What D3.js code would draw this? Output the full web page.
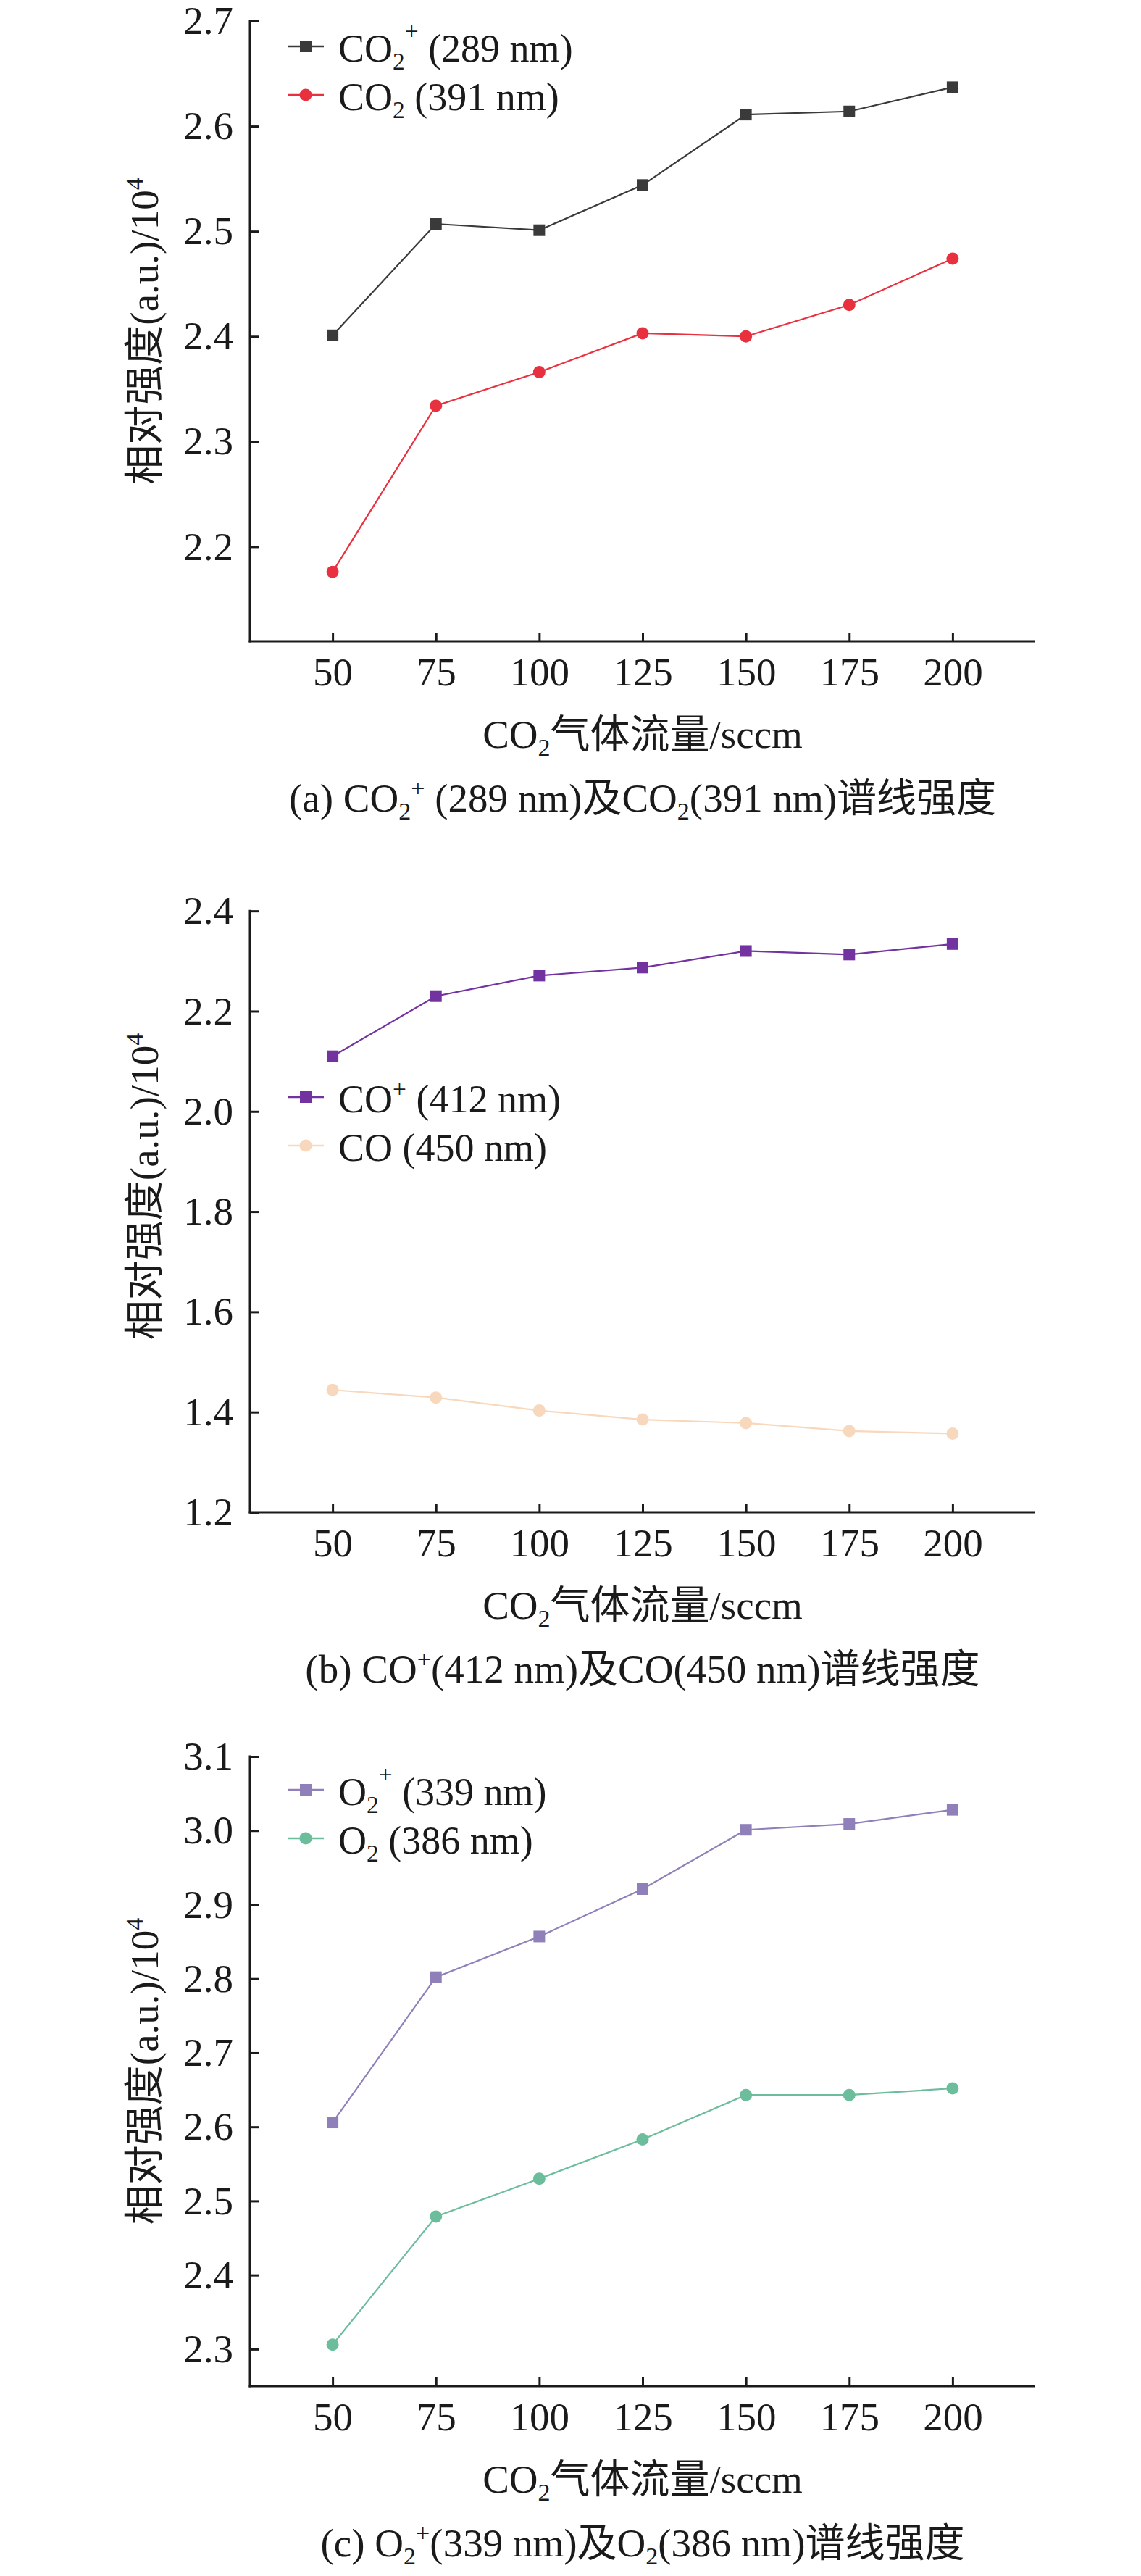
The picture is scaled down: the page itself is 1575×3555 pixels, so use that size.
<!DOCTYPE html>
<html><head><meta charset="utf-8">
<script src="https://cdn.jsdelivr.net/npm/d3@7/dist/d3.min.js"></script>
<style>
html,body{margin:0;padding:0;background:#fff;}
svg text{font-family:"Liberation Serif","Times New Roman","Noto Sans CJK SC",serif;fill:#1a1a1a;}
</style></head>
<body>
<svg id="chart" width="1575" height="3555"></svg>
<script>
// ---- data ----
const flow = [50, 75, 100, 125, 150, 175, 200];
const xTicks = [50, 75, 100, 125, 150, 175, 200];

const co2Ion289 = [2.401, 2.507, 2.501, 2.544, 2.611, 2.614, 2.637];
const co2Mol391 = [2.176, 2.334, 2.366, 2.403, 2.400, 2.430, 2.474];

const coIon412 = [2.110, 2.230, 2.271, 2.287, 2.320, 2.313, 2.334];
const coMol450 = [1.444, 1.429, 1.403, 1.385, 1.378, 1.362, 1.357];

const o2Ion339 = [2.606, 2.802, 2.857, 2.921, 3.001, 3.009, 3.028];
const o2Mol386 = [2.306, 2.479, 2.530, 2.583, 2.643, 2.643, 2.652];

const yTicksA = [2.2, 2.3, 2.4, 2.5, 2.6, 2.7];
const yTicksB = [1.2, 1.4, 1.6, 1.8, 2.0, 2.2, 2.4];
const yTicksC = [2.3, 2.4, 2.5, 2.6, 2.7, 2.8, 2.9, 3.0, 3.1];

const yTitle = ["相对强度(a.u.)/10", "4"];
const xTitle = [["CO",""],["2","sub"],["气体流量/sccm",""]];

const captionA = [["(a) CO",""],["2","sub"],["+","sup"],[" (289 nm)及CO",""],["2","sub"],["(391 nm)谱线强度",""]];
const captionB = [["(b) CO",""],["+","sup"],["(412 nm)及CO(450 nm)谱线强度",""]];
const captionC = [["(c) O",""],["2","sub"],["+","sup"],["(339 nm)及O",""],["2","sub"],["(386 nm)谱线强度",""]];

const legA = [[["CO",""],["2","sub"],["+","sup2"],[" (289 nm)",""]], [["CO",""],["2","sub"],[" (391 nm)",""]]];
const legB = [[["CO",""],["+","sup"],[" (412 nm)",""]], [["CO (450 nm)",""]]];
const legC = [[["O",""],["2","sub"],["+","sup2"],[" (339 nm)",""]], [["O",""],["2","sub"],[" (386 nm)",""]]];

// ---- layout ----
const FS = 55;
const svg = d3.select("#chart");
const x = d3.scaleLinear().domain([30, 220]).range([345, 1429]);

const panels = [
  {top:29, bottom:885, domain:[2.11,2.7], ticks:yTicksA, fmt:".1f", caption:captionA, legY:64,
   series:[{v:co2Ion289, color:"#3a3a3a", shape:"square", leg:legA[0]},
           {v:co2Mol391, color:"#e8303f", shape:"circle", leg:legA[1]}]},
  {top:1188, bottom:2087, domain:[1.2,2.5], ticks:yTicksB, fmt:".1f", caption:captionB, legY:1514,
   series:[{v:coIon412, color:"#7232a0", shape:"square", leg:legB[0]},
           {v:coMol450, color:"#f8d8bd", shape:"circle", leg:legB[1]}]},
  {top:2424, bottom:3293, domain:[2.25,3.1], ticks:yTicksC, fmt:".1f", caption:captionC, legY:2470,
   series:[{v:o2Ion339, color:"#8f80ba", shape:"square", leg:legC[0]},
           {v:o2Mol386, color:"#6cbd9c", shape:"circle", leg:legC[1]}]}
];

function richText(sel, parts, size){
  parts.forEach(([t,kind])=>{
    const ts = sel.append("tspan").text(t);
    if(kind==="sub"){ ts.attr("font-size", size*0.62).attr("dy", size*0.2); }
    else if(kind==="sup"){ ts.attr("font-size", size*0.62).attr("dy", -size*0.38); }
    else if(kind==="sup2"){ ts.attr("font-size", size*0.62).attr("dy", -size*0.58); }
    else { ts.attr("font-size", size); }
  });
  // reset baseline shifts
  let acc = 0;
  sel.selectAll("tspan").each(function(d,i){
    const kind = parts[i][1];
    let want = kind==="sub"? size*0.2 : kind==="sup"? -size*0.38 : kind==="sup2"? -size*0.58 : 0;
    d3.select(this).attr("dy", want-acc);
    acc = want;
  });
}

function marker(g, shape, cx, cy, color){
  if(shape==="square"){
    g.append("rect").attr("x",cx-8).attr("y",cy-8).attr("width",16).attr("height",16).attr("fill",color);
  } else {
    g.append("circle").attr("cx",cx).attr("cy",cy).attr("r",8.5).attr("fill",color);
  }
}

panels.forEach(p=>{
  const g = svg.append("g");
  const y = d3.scaleLinear().domain(p.domain).range([p.bottom, p.top]);

  // y axis
  const ya = g.append("g").attr("transform",`translate(${x.range()[0]},0)`)
    .call(d3.axisLeft(y).tickValues(p.ticks).tickFormat(d3.format(p.fmt)).tickSizeInner(-12).tickSizeOuter(0).tickPadding(23));
  ya.select(".domain").attr("stroke","#1a1a1a").attr("stroke-width",3).attr("d",`M0,${p.bottom+1.5}V${y(p.ticks[p.ticks.length-1])-1.5}`);
  ya.selectAll(".tick line").attr("stroke","#1a1a1a").attr("stroke-width",3);
  ya.selectAll(".tick text").attr("font-size",FS).attr("font-family","Liberation Serif").attr("fill","#1a1a1a");

  // x axis
  const xa = g.append("g").attr("transform",`translate(0,${p.bottom})`)
    .call(d3.axisBottom(x).tickValues(xTicks).tickSizeInner(-12).tickSizeOuter(0).tickPadding(22));
  xa.select(".domain").attr("stroke","#1a1a1a").attr("stroke-width",3).attr("d",`M${x.range()[0]-1.5},0H${x.range()[1]}`);
  xa.selectAll(".tick line").attr("stroke","#1a1a1a").attr("stroke-width",3);
  xa.selectAll(".tick text").attr("font-size",FS).attr("font-family","Liberation Serif").attr("fill","#1a1a1a");

  // series
  p.series.forEach(s=>{
    const line = d3.line().x((d,i)=>x(flow[i])).y(d=>y(d));
    g.append("path").datum(s.v).attr("d",line).attr("fill","none").attr("stroke",s.color).attr("stroke-width",2.2);
    const mg = g.append("g");
    s.v.forEach((v,i)=>marker(mg, s.shape, x(flow[i]), y(v), s.color));
  });

  // legend
  p.series.forEach((s,k)=>{
    const ly = p.legY + k*67;
    g.append("line").attr("x1",398).attr("x2",447).attr("y1",ly).attr("y2",ly).attr("stroke",s.color).attr("stroke-width",2.5);
    marker(g, s.shape, 422, ly, s.color);
    const t = g.append("text").attr("x",467).attr("y",ly+21);
    richText(t, s.leg, 54);
  });

  // y title
  const cy = (p.top+p.bottom)/2;
  const yt = g.append("text").attr("transform",`translate(218,${cy}) rotate(-90)`).attr("text-anchor","middle");
  richText(yt, [[yTitle[0],""],[yTitle[1],"sup"]], FS);

  // x title
  const cx = (x.range()[0]+x.range()[1])/2;
  const xt = g.append("text").attr("x",cx).attr("y",p.bottom+147).attr("text-anchor","middle");
  richText(xt, xTitle, FS);

  // caption
  const ct = g.append("text").attr("x",cx).attr("y",p.bottom+235).attr("text-anchor","middle");
  richText(ct, p.caption, FS);
});
</script>
</body></html>
